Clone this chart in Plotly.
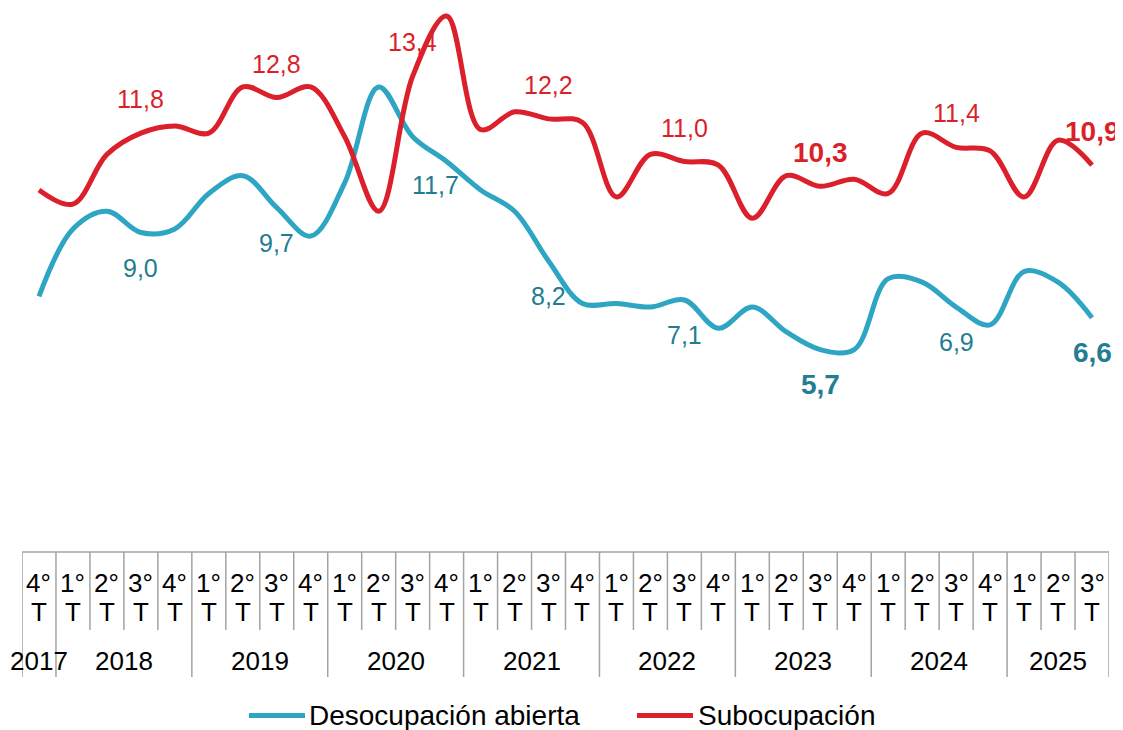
import plotly.graph_objects as go

# ---------------- data ----------------
quarter_labels = ["4°"] + ["1°", "2°", "3°", "4°"] * 7 + ["1°", "2°", "3°"]
quarter_suffix = "T"
years = ["2017", "2018", "2019", "2020", "2021", "2022", "2023", "2024", "2025"]
quarters_per_year = [1, 4, 4, 4, 4, 4, 4, 4, 3]

desocupacion = [7.2, 9.1, 9.6, 9.0, 9.1, 10.1, 10.6, 9.7, 8.9, 10.4, 13.1, 11.7,
                11.0, 10.2, 9.6, 8.2, 7.0, 7.0, 6.9, 7.1, 6.3, 6.9, 6.2, 5.7,
                5.7, 7.7, 7.6, 6.9, 6.4, 7.9, 7.6, 6.6]
subocupacion = [10.2, 9.8, 11.2, 11.8, 12.0, 11.8, 13.1, 12.8, 13.1, 11.7, 9.6, 13.4,
                15.1, 11.9, 12.4, 12.2, 12.1, 10.0, 11.2, 11.0, 10.9, 9.4, 10.6, 10.3,
                10.5, 10.1, 11.8, 11.4, 11.3, 10.0, 11.6, 10.9]

labeled_points = [3, 7, 11, 15, 19, 23, 27, 31]
bold_points = [23, 31]

series_names = ["Desocupación abierta", "Subocupación"]

# unique category ids
categories = []
k = 0
for y, n in zip(years, quarters_per_year):
    for _ in range(n):
        categories.append(f"{quarter_labels[k]}{quarter_suffix} {y}")
        k += 1

BLUE = "#2EA5C3"
BLUE_TXT = "#227D92"
RED = "#DB1F2B"
GRID = "#A3A3A3"
FONT = "Arial, Liberation Sans, sans-serif"

W, H = 1115, 722           # page body has an 8px margin
ML, MR, MT, MB = 14, 14, 0, 178
PW, PH = W - ML - MR, H - MT - MB

def px_x(fx):   # figure pixel x -> paper
    return (fx - ML) / PW

def px_y(fy):   # figure pixel y -> paper
    return (MT + PH - fy) / PH

fig = go.Figure()
fig.add_trace(go.Scatter(x=categories, y=desocupacion, mode="lines", name=series_names[0],
                         line=dict(color=BLUE, width=5, shape="spline", smoothing=1),
                         showlegend=False))
fig.add_trace(go.Scatter(x=categories, y=subocupacion, mode="lines", name=series_names[1],
                         line=dict(color=RED, width=5, shape="spline", smoothing=1),
                         showlegend=False))

def fmt(v):
    return f"{v:.1f}".replace(".", ",")

annotations = []
for i in labeled_points:
    bold = i in bold_points
    xs, ys = 0, -35
    if i == 11:
        xs, ys = 23, -48
    txt = fmt(desocupacion[i])
    annotations.append(dict(
        x=categories[i], y=desocupacion[i], xref="x", yref="y",
        text=f"<b>{txt}</b>" if bold else txt, showarrow=False,
        xshift=xs, yshift=ys, xanchor="center", yanchor="middle",
        font=dict(family=FONT, size=28 if bold else 25, color=BLUE_TXT)))
    txt = fmt(subocupacion[i])
    annotations.append(dict(
        x=categories[i], y=subocupacion[i], xref="x", yref="y",
        text=f"<b>{txt}</b>" if bold else txt, showarrow=False,
        xshift=0, yshift=34, xanchor="center", yanchor="middle",
        font=dict(family=FONT, size=28 if bold else 25, color=RED)))

# category table (axis decoration)
shapes = []
below = lambda d: -d / PH
n = len(categories)
shapes.append(dict(type="line", xref="x", yref="paper", x0=-0.5, x1=n - 0.5,
                   y0=0, y1=0, line=dict(color=GRID, width=1.5)))
year_bounds = [-0.5]
acc = -0.5
for c in quarters_per_year:
    acc += c
    year_bounds.append(acc)
for b in range(n + 1):
    xb = b - 0.5
    is_year = any(abs(xb - yb) < 1e-9 for yb in year_bounds)
    shapes.append(dict(type="line", xref="x", yref="paper", x0=xb, x1=xb,
                       y0=0, y1=below(125 if is_year else 78),
                       line=dict(color=GRID, width=1.5)))

for i, q in enumerate(quarter_labels):
    annotations.append(dict(x=categories[i], y=0, xref="x", yref="paper", text=q,
                            showarrow=False, yshift=-31, yanchor="middle",
                            font=dict(family=FONT, size=26, color="#000000")))
    annotations.append(dict(x=categories[i], y=0, xref="x", yref="paper", text=quarter_suffix,
                            showarrow=False, yshift=-60, yanchor="middle",
                            font=dict(family=FONT, size=26, color="#000000")))

start = 0
for y, c in zip(years, quarters_per_year):
    center = start + (c - 1) / 2
    annotations.append(dict(x=center, y=0, xref="x", yref="paper", text=y,
                            showarrow=False, yshift=-109, yanchor="middle",
                            font=dict(family=FONT, size=26, color="#000000")))
    start += c

# legend (drawn manually to match the long line samples)
LEG_Y = 707.5
legend_items = [(series_names[0], BLUE, 241, 297, 299), (series_names[1], RED, 629, 685, 688)]
for name, col, lx0, lx1, tx in legend_items:
    shapes.append(dict(type="line", xref="paper", yref="paper",
                       x0=px_x(lx0), x1=px_x(lx1), y0=px_y(LEG_Y), y1=px_y(LEG_Y),
                       line=dict(color=col, width=5)))
    annotations.append(dict(x=px_x(tx), y=px_y(LEG_Y), xref="paper", yref="paper",
                            text=name, showarrow=False, xanchor="left", yanchor="middle",
                            font=dict(family=FONT, size=28, color="#000000")))

fig.update_layout(
    width=W, height=H,
    margin=dict(l=ML, r=MR, t=MT, b=MB),
    paper_bgcolor="white", plot_bgcolor="white",
    showlegend=False,
    xaxis=dict(type="category", range=[-0.5, n - 0.5], showticklabels=False,
               showgrid=False, zeroline=False, showline=False, ticks=""),
    yaxis=dict(range=[0, PH / 35.5], visible=False, showgrid=False, zeroline=False),
    shapes=shapes,
    annotations=annotations,
)

fig.write_html("out.html")
